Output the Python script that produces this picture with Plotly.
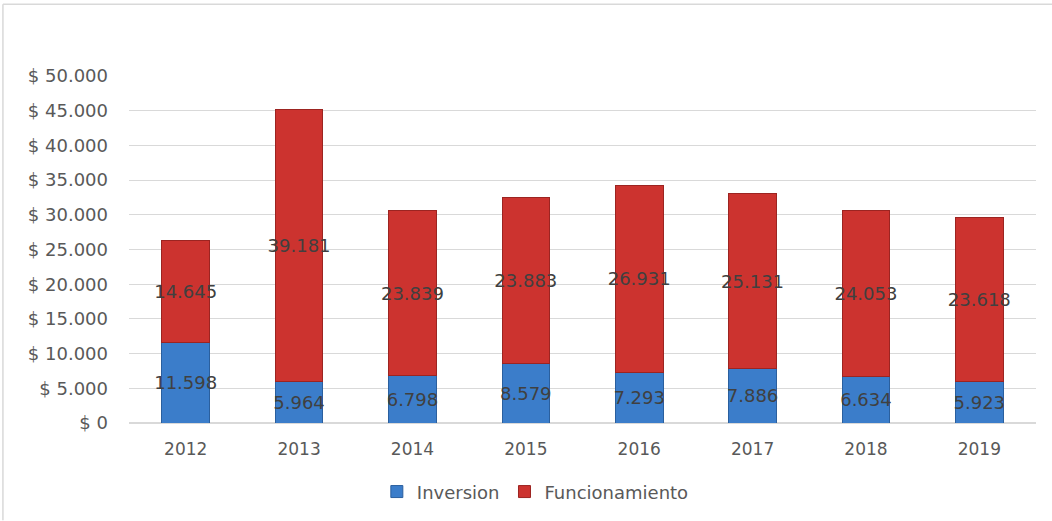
import plotly.graph_objects as go

years = ["2012", "2013", "2014", "2015", "2016", "2017", "2018", "2019"]
inversion = [11598, 5964, 6798, 8579, 7293, 7886, 6634, 5923]
funcionamiento = [14645, 39181, 23839, 23883, 26931, 25131, 24053, 23618]

label_font = dict(family="DejaVu Sans", size=18, color="#404040")

fig = go.Figure()
fig.add_trace(go.Bar(
    x=years, y=inversion, name="Inversion",
    marker=dict(color="#3b7dca", line=dict(color="#2a5f9e", width=1)),
    texttemplate="%{y:,}", textposition="inside", insidetextanchor="middle",
    textangle=0, constraintext="none", textfont=label_font,
))
fig.add_trace(go.Bar(
    x=years, y=funcionamiento, name="Funcionamiento",
    marker=dict(color="#cc332f", line=dict(color="#9c2421", width=1)),
    texttemplate="%{y:,}", textposition="inside", insidetextanchor="middle",
    textangle=0, constraintext="none", textfont=label_font,
))

fig.update_layout(
    barmode="stack",
    bargap=0.58,
    width=1052, height=521,
    margin=dict(l=129, r=16, t=76, b=97),
    paper_bgcolor="white", plot_bgcolor="white",
    separators=",.",
    font=dict(family="DejaVu Sans", color="#595959"),
    showlegend=True,
    legend=dict(orientation="h", x=0.448, xanchor="center", y=-0.195, yanchor="middle",
                font=dict(size=18, color="#595959"), traceorder="normal",
                itemwidth=30),
    shapes=[
        dict(type="line", xref="paper", yref="paper", x0=-0.139, x1=1.02, y0=1.207, y1=1.207,
             line=dict(color="#d9d9d9", width=1.5)),
        dict(type="line", xref="paper", yref="paper", x0=-0.139, x1=-0.139, y0=1.207, y1=-0.28,
             line=dict(color="#d9d9d9", width=1.5)),
    ],
)
fig.update_yaxes(range=[0, 50000], dtick=5000, tickprefix="$ ", tickformat=",",
                 showgrid=True, gridcolor="#d9d9d9", gridwidth=1,
                 zeroline=True, zerolinecolor="#d9d9d9",
                 tickfont=dict(size=18, color="#595959"), ticks="",
                 ticklabelstandoff=20, showline=False)
fig.update_xaxes(tickfont=dict(size=17, color="#595959"), showline=False, ticks="",
                 ticklabelstandoff=14)

fig.write_html("out.html")
